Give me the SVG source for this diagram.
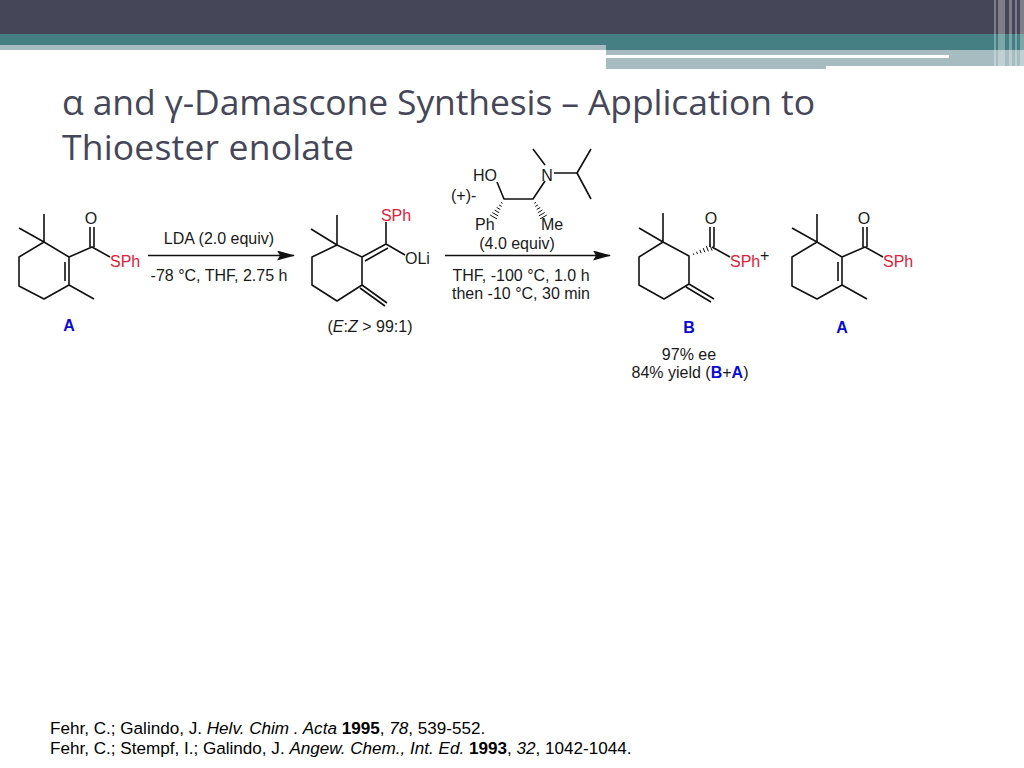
<svg xmlns="http://www.w3.org/2000/svg" width="1024" height="768" viewBox="0 0 1024 768">
<style>
text{font-family:"Liberation Sans",Arial,sans-serif;font-size:16px;fill:#1a1a1a}
.t{font-family:"Open Sans","Noto Sans",sans-serif;font-size:35.500px;fill:#464659}
.r{fill:#e0203a}.b{fill:#0b0bd0;font-weight:bold}
.f{font-size:17.100px;fill:#000}
.m{text-anchor:middle}
.bond{fill:none;stroke:#111;stroke-width:1.6;stroke-linejoin:round}
.hash{fill:none;stroke:#111;stroke-width:1}
.arr{fill:none;stroke:#111;stroke-width:1.6}
</style>
<defs>
<marker id="ah" markerUnits="userSpaceOnUse" markerWidth="18" markerHeight="10" refX="17" refY="5" orient="auto"><path d="M0 0L18 5L0 10L3 5Z" fill="#111"/></marker>
<path id="hs" class="hash" d="M-3 3.400l1.600 .9M-4.900 5.950l2.600 1.500M-7.300 8.450l3.600 2.100M-9.400 11.050l4.600 2.700M-11.700 13.550l5.800 3.300M-13.800 16.050l6.800 3.900"/>
<g id="molA">
<path class="bond" d="M44 214V242M19 228L44 242L19 257V286L44 299L69 285V257L44 242M69 285L94 299M69 257L92 247L110 257M65 262V281M90 247V227M94 247V227"/>
<text x="91" y="224" class="m">O</text>
<text x="110" y="266.700" class="r">SPh</text>
</g>
</defs>
<g id="background">
<rect x="0" y="0" width="1024" height="35" fill="#464659"/>
<rect x="0" y="34" width="1024" height="11" fill="#457f83"/>
<rect x="0" y="45" width="606" height="5" fill="#a6bcc0"/>
<rect x="606" y="45" width="418" height="5" fill="#457f83"/>
<rect x="606" y="50" width="418" height="5" fill="#a6bcc0"/>
<rect x="606" y="58" width="220" height="11" fill="#a6bcc0"/>
<rect x="826" y="58" width="198" height="8" fill="#a6bcc0"/>
<rect x="949" y="55" width="75" height="3" fill="#a6bcc0"/>
<g fill="#fff" opacity=".3">
<rect x="994" y="0" width="2" height="68"/><rect x="998" y="0" width="7" height="68"/><rect x="1009" y="0" width="3" height="68"/><rect x="1015" y="0" width="2" height="68"/><rect x="1020" y="0" width="4" height="68"/>
</g>
</g>
<g id="title">
<text class="t" x="62" y="115" textLength="753">α and γ-Damascone Synthesis – Application to</text>
<text class="t" x="62" y="160" textLength="292">Thioester enolate</text>
</g>
<g id="connectors">
<path class="arr" d="M148 255.500H294" marker-end="url(#ah)"/>
<path class="arr" d="M445 255.500H610" marker-end="url(#ah)"/>
</g>
<g id="node-A1">
<use href="#molA"/>
<text x="69" y="330.700" class="b m">A</text>
</g>
<g id="reagent-1">
<text x="219" y="243.700" class="m">LDA (2.0 equiv)</text>
<text x="219" y="280.700" class="m">-78 °C, THF, 2.75 h</text>
</g>
<g id="node-enolate">
<path class="bond" d="M337 215V245M311 229L337 245L312 257V285L337 301L362 285V257L337 245M362 285L387 303M360 288L385 306M362 257L386 244M365 261L388 248M386 244V222M386 244L405 255"/>
<text x="396" y="220.700" class="m r">SPh</text>
<text x="405" y="263.700">OLi</text>
<text x="370" y="331.700" class="m">(<tspan font-style="italic">E</tspan>:<tspan font-style="italic">Z</tspan> &gt; 99:1)</text>
</g>
<g id="reagent-2">
<path class="bond" d="M497 182L504 199H533L545 181M545 165L533 149M554 173H577L591 149M577 173L591 199"/>
<use href="#hs" x="504" y="199"/>
<use href="#hs" transform="translate(533 199) scale(-1 1)"/>
<text x="473" y="180.700">HO</text>
<text x="547" y="180.700" class="m">N</text>
<text x="451" y="200.700">(+)-</text>
<text x="475" y="229.700">Ph</text>
<text x="541" y="229.700">Me</text>
<text x="517" y="248.700" class="m">(4.0 equiv)</text>
<text x="521" y="280.700" class="m">THF, -100 °C, 1.0 h</text>
<text x="521" y="298.700" class="m">then -10 °C, 30 min</text>
</g>
<g id="node-B">
<path class="bond" d="M663 213V242M639 228L663 242L639 257V285L664 299L689 284V256L663 242M689 284L714 299M686 287L711 302M712 247L730 257M710 247V227M714 247V227"/>
<path class="hash" d="M693.300 253.450l.6 1.500M696.500 251.700l1 2.400M699.850 249.800l1.300 3.400M703.200 248.100l1.600 4.200M706.400 246.200l2 5.200M709.700 244.400l2.400 6.200"/>
<text x="711" y="224" class="m">O</text>
<text x="730" y="266.700" class="r">SPh</text>
<text x="760" y="261">+</text>
<text x="689" y="359.700" class="m">97% ee</text>
<text x="689" y="332.700" class="b m">B</text>
<text x="690" y="377.700" class="m">84% yield (<tspan class="b">B</tspan>+<tspan class="b">A</tspan>)</text>
</g>
<g id="node-A2">
<use href="#molA" x="773"/>
<text x="842" y="332.700" class="b m">A</text>
</g>
<g id="references">
<text class="f" x="50" y="733.600">Fehr, C.; Galindo, J. <tspan font-style="italic">Helv. Chim . Acta</tspan> <tspan font-weight="bold">1995</tspan>, <tspan font-style="italic">78</tspan>, 539-552.</text>
<text class="f" x="50" y="754">Fehr, C.; Stempf, I.; Galindo, J. <tspan font-style="italic">Angew. Chem., Int. Ed.</tspan> <tspan font-weight="bold">1993</tspan>, <tspan font-style="italic">32</tspan>, 1042-1044.</text>
</g>
</svg>
